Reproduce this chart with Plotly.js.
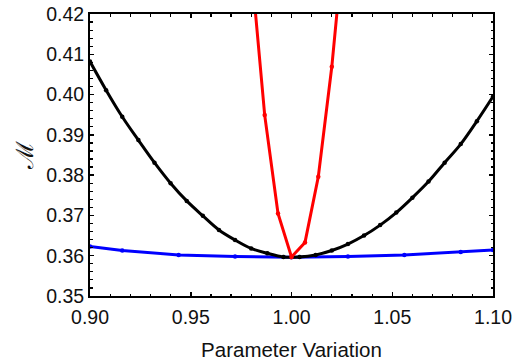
<!DOCTYPE html>
<html><head><meta charset="utf-8">
<script src="https://cdn.plot.ly/plotly-3.0.1.min.js"></script>
<style>html,body{margin:0;padding:0;background:#fff}#c{width:514px;height:363px}</style>
</head><body><div id="c"></div>
<script>
const blackX = [0.900,0.908,0.916,0.924,0.932,0.940,0.948,0.956,0.964,0.972,0.980,0.988,0.996,1.004,1.012,1.020,1.028,1.036,1.044,1.052,1.060,1.068,1.076,1.084,1.092,1.100];
const blackY = [0.4082,0.4011,0.3945,0.3887,0.3831,0.3780,0.3736,0.3699,0.3664,0.3639,0.3618,0.3606,0.3597,0.3597,0.3602,0.3613,0.3629,0.3650,0.3676,0.3707,0.3744,0.3784,0.3831,0.3877,0.3934,0.3995];
const blueX = [0.900,0.916,0.944,0.972,1.000,1.028,1.056,1.084,1.100];
const blueY = [0.3623,0.3613,0.3602,0.3598,0.3596,0.3598,0.3602,0.3609,0.3614];
const redX = [0.9800,0.9867,0.9933,1.0000,1.0067,1.0133,1.0200,1.0267];
const redY = [0.4320,0.3949,0.3705,0.3597,0.3633,0.3796,0.4069,0.4420];
const xTicks = [0.90,0.95,1.00,1.05,1.10];
const xTickText = ['0.90','0.95','1.00','1.05','1.10'];
const yTicks = [0.35,0.36,0.37,0.38,0.39,0.40,0.41,0.42];
const yTickText = ['0.35','0.36','0.37','0.38','0.39','0.40','0.41','0.42'];

const traces = [
  {x: blueX, y: blueY, mode:'lines+markers', line:{color:'#0000ff', width:3}, marker:{size:4.5, color:'#0000ff'}},
  {x: blackX, y: blackY, mode:'lines+markers', line:{color:'#000000', width:3, shape:'spline'}, marker:{size:4.5, color:'#000000'}},
  {x: redX, y: redY, mode:'lines+markers', line:{color:'#ff0000', width:3}, marker:{size:4.5, color:'#ff0000'}}
];
const tf = {family:'Liberation Sans, Arial, sans-serif', size:19.5, color:'#111'};
const axisCommon = {
  showgrid:false, zeroline:false, showline:true, linecolor:'#000', linewidth:2,
  mirror:'allticks', ticks:'inside', ticklen:4, tickwidth:1.5, tickcolor:'#000',
  tickfont:tf
};
const layout = {
  width:514, height:363,
  margin:{l:90, r:21, t:14, b:67},
  showlegend:false,
  paper_bgcolor:'#fff', plot_bgcolor:'#fff',
  xaxis: Object.assign({}, axisCommon, {
    range:[0.9,1.1], tickvals:xTicks, ticktext:xTickText, ticklabelstandoff:3,
    minor:{dtick:0.01, tick0:0.9, ticks:'inside', ticklen:2.5, tickwidth:1.2, tickcolor:'#000'},
    title:{text:'Parameter Variation', font:{family:'Liberation Sans, Arial, sans-serif', size:20.5, color:'#111'}, standoff:15}
  }),
  yaxis: Object.assign({}, axisCommon, {
    range:[0.35,0.42], tickvals:yTicks, ticktext:yTickText,
    minor:{dtick:0.002, tick0:0.35, ticks:'inside', ticklen:2.5, tickwidth:1.2, tickcolor:'#000'},
    title:{text:'ℳ', font:{family:'DejaVu Serif, serif', size:24, color:'#111'}, standoff:6}
  })
};
Plotly.newPlot('c', traces, layout, {staticPlot:true, displayModeBar:false});
</script></body></html>
